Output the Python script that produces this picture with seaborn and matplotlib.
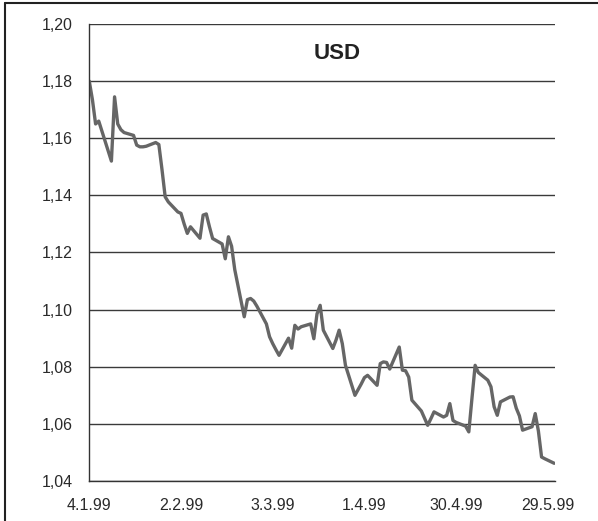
import numpy as np
import pandas as pd
import seaborn as sns
import matplotlib.pyplot as plt
from matplotlib.lines import Line2D

# euro in dollars, one value per business day
dates = pd.bdate_range("1999-01-04", "1999-05-31")
usd = [
    1.1800, 1.1735, 1.1650, 1.1660, 1.1625,   # 4.1 - 8.1
    1.1520, 1.1745, 1.1650, 1.1630, 1.1620,   # 11.1 - 15.1
    1.1610, 1.1576, 1.1570, 1.1570, 1.1572,   # 18.1 - 22.1
    1.1585, 1.1578, 1.1490, 1.1395, 1.1377,   # 25.1 - 29.1
    1.1342, 1.1337, 1.1300, 1.1267, 1.1290,   # 1.2 - 5.2
    1.1250, 1.1331, 1.1335, 1.1290, 1.1249,   # 8.2 - 12.2
    1.1230, 1.1178, 1.1255, 1.1222, 1.1140,   # 15.2 - 19.2
    1.0975, 1.1035, 1.1039, 1.1030, 1.1012,   # 22.2 - 26.2
    1.0950, 1.0905, 1.0881, 1.0860, 1.0840,   # 1.3 - 5.3
    1.0900, 1.0865, 1.0945, 1.0932, 1.0940,   # 8.3 - 12.3
    1.0950, 1.0898, 1.0985, 1.1015, 1.0928,   # 15.3 - 19.3
    1.0864, 1.0893, 1.0928, 1.0881, 1.0805,   # 22.3 - 26.3
    1.0700, 1.0720, 1.0740, 1.0762, 1.0770,   # 29.3 - 2.4
    1.0735, 1.0811, 1.0817, 1.0815, 1.0792,   # 5.4 - 9.4
    1.0869, 1.0788, 1.0786, 1.0764, 1.0683,   # 12.4 - 16.4
    1.0645, 1.0620, 1.0595, 1.0618, 1.0642,   # 19.4 - 23.4
    1.0624, 1.0630, 1.0671, 1.0612, 1.0605,   # 26.4 - 30.4
    1.0592, 1.0572, 1.0690, 1.0805, 1.0780,   # 3.5 - 7.5
    1.0753, 1.0730, 1.0660, 1.0630, 1.0677,   # 10.5 - 14.5
    1.0694, 1.0695, 1.0655, 1.0628, 1.0578,   # 17.5 - 21.5
    1.0590, 1.0636, 1.0575, 1.0484, 1.0478,   # 24.5 - 28.5
    1.0462,                                   # 31.5
]
df = pd.DataFrame({"date": dates, "usd": usd})

tick_dates = pd.to_datetime(["1999-01-04", "1999-02-02", "1999-03-03",
                             "1999-04-01", "1999-04-30", "1999-05-29"])
tick_labels = ["4.1.99", "2.2.99", "3.3.99", "1.4.99", "30.4.99", "29.5.99"]
y_ticks = [1.04, 1.06, 1.08, 1.10, 1.12, 1.14, 1.16, 1.18, 1.20]
y_labels = [f"{v:.2f}".replace(".", ",") for v in y_ticks]

sns.set_theme(style="white")
plt.rcParams["font.family"] = ["Liberation Sans", "DejaVu Sans"]

fig = plt.figure(figsize=(5.98, 5.21), dpi=100)
ax = fig.add_axes([89 / 598, 1 - 481 / 521, (555 - 89) / 598, (481 - 24) / 521])

sns.lineplot(data=df, x="date", y="usd", ax=ax, color="#666666", linewidth=2.4)

ax.set_ylim(1.04, 1.20)
ax.set_xlim(pd.Timestamp("1999-01-03 22:00"), pd.Timestamp("1999-05-31 06:00"))
ax.set_yticks(y_ticks)
ax.set_yticklabels(y_labels)
ax.set_xticks(tick_dates)
ax.set_xticklabels(tick_labels)
ax.set_xlabel("")
ax.set_ylabel("")

ax.grid(axis="y", color="#3a3a3a", linewidth=1.0)
ax.grid(axis="x", visible=False)
ax.set_axisbelow(True)
for side in ["top", "right"]:
    ax.spines[side].set_visible(False)
for side in ["left", "bottom"]:
    ax.spines[side].set_color("#333333")
    ax.spines[side].set_linewidth(1.0)

ax.tick_params(axis="both", direction="inout", length=5, width=1, color="#333333",
               labelsize=11.5, labelcolor="#2a2a2a")
ax.tick_params(axis="y", pad=9)
ax.tick_params(axis="x", pad=10)
ax.set_facecolor("white")

ax.text(0.532, 0.935, "USD", transform=ax.transAxes, ha="center", va="center",
        fontsize=16, fontweight="bold", color="#222222")

# scanned frame: left and top edges
fig.add_artist(Line2D([4.5 / 598, 4.5 / 598], [0, 1 - 3 / 521], color="#222222", linewidth=1.5))
fig.add_artist(Line2D([4.5 / 598, 1], [1 - 3 / 521, 1 - 3 / 521], color="#222222", linewidth=1.5))

fig.savefig("out.png", dpi=100, facecolor="white")
